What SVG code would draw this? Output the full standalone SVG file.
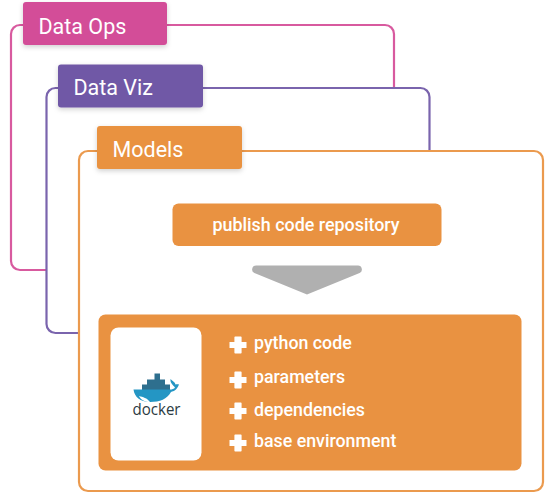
<svg xmlns="http://www.w3.org/2000/svg" width="553" height="495" viewBox="0 0 553 495">
<defs>
<filter id="sh" x="-10%" y="-20%" width="120%" height="150%"><feDropShadow dx="0" dy="2" stdDeviation="2.5" flood-color="#000" flood-opacity="0.18"/></filter>
<path id="plus" d="M-2.8-8.500h5.600a0.800 0.800 0 0 1 .8.800V-3H8.500V3H3.600v4.700a0.800 0.800 0 0 1-.8.800h-5.600a0.800 0.800 0 0 1-.8-.8V3H-8.500V-3H-3.600V-7.700a0.800 0.800 0 0 1 .8-.8z"/>
</defs>
<style>
text{font-family:Roboto,"Liberation Sans",sans-serif;fill:#fff}
.tab{font-size:21.500px}
.item{font-size:17.800px;font-weight:500}
.frame{fill:#fff;stroke-width:2.200}
.plus{fill:#fff}
</style>
<rect width="553" height="495" fill="#fff"/>
<g id="connectors"></g>
<g id="data-ops">
<rect class="frame" x="11" y="25" width="383" height="245" rx="9" stroke="#d85a9f"/>
<rect x="23" y="2" width="144" height="43" rx="3" fill="#d34e98" filter="url(#sh)"/>
<text class="tab" x="38.500" y="33.500">Data Ops</text>
</g>
<g id="data-viz">
<rect class="frame" x="46.500" y="88" width="383" height="245" rx="9" stroke="#7a64ad"/>
<rect x="58" y="64.500" width="145" height="43" rx="3" fill="#7059a6" filter="url(#sh)"/>
<text class="tab" x="73.500" y="95">Data Viz</text>
</g>
<g id="models">
<rect class="frame" x="79" y="151" width="464" height="340" rx="9" stroke="#eb9a4e"/>
<rect x="97" y="126" width="145" height="43" rx="3" fill="#e99241" filter="url(#sh)"/>
<text class="tab" x="112.500" y="156.500">Models</text>
</g>
<g id="publish">
<rect x="172.500" y="203.500" width="269" height="42.500" rx="6" fill="#e99241"/>
<text x="306" y="231" text-anchor="middle" font-size="17.900" font-weight="500">publish code repository</text>
</g>
<g id="arrow">
<path d="M256 265.500H358a4 4 0 0 1 1.600 7.600L307 294.500 254.400 273.100A4 4 0 0 1 256 265.500z" fill="#b0b0b0"/>
</g>
<g id="container">
<rect x="98.500" y="314.500" width="423" height="156" rx="7" fill="#e99241"/>
<rect x="110.500" y="327.500" width="91" height="133" rx="8" fill="#fff"/>
<g id="docker-logo">
<path d="M154.500 373.500H160V379.500H165V384.500H170V390H142V384.500H147V379.500H154.500z" fill="#2e6f8e"/>
<path d="M133.500 389.500H170C172 389.500 174 389 175 387.500 173 385 170 383 170.500 379 172 381 175 382 175.500 384.500 177 384 178 384 179 384.500 177 390 174 391 171 392 167 399 160 402 150 402 140 402 134.500 397 133.500 389.500z" fill="#2496c4"/>
<path d="M139 396C143 397 147 398 150 402 145 402 141 400 139 396z" fill="#fff"/>
<text x="156.500" y="415" text-anchor="middle" font-size="16" style="fill:#2b3a42;font-family:'Open Sans','Liberation Sans',sans-serif" textLength="48" lengthAdjust="spacingAndGlyphs">docker</text>
</g>
<use href="#plus" class="plus" x="238" y="345"/>
<text class="item" x="254" y="348.500">python code</text>
<use href="#plus" class="plus" x="238" y="380"/>
<text class="item" x="254" y="383">parameters</text>
<use href="#plus" class="plus" x="238" y="411"/>
<text class="item" x="254" y="416">dependencies</text>
<use href="#plus" class="plus" x="238" y="443"/>
<text class="item" x="254" y="447">base environment</text>
</g>
</svg>
